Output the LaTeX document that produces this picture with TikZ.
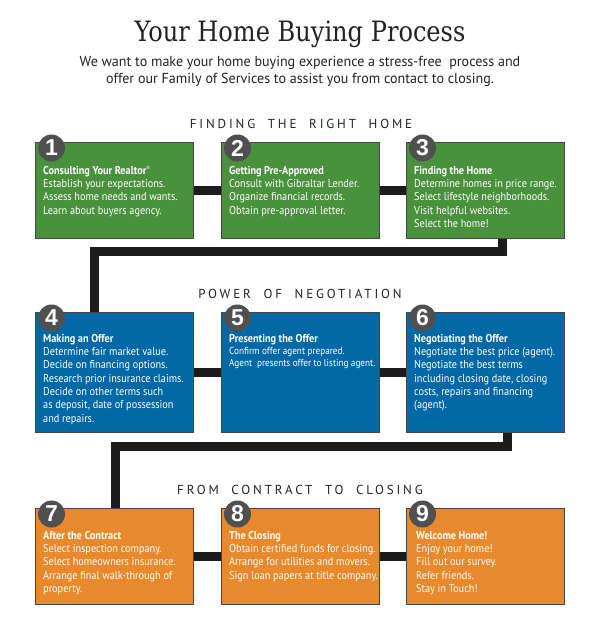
\documentclass[tikz,border=0pt]{standalone}
\usepackage{fontspec}
\setmainfont{PT Sans}[FakeStretch=0.9]
\newfontfamily\titlefont{DejaVu Serif}[FakeStretch=0.86]
\newfontfamily\subfont{PT Sans}[FakeStretch=0.97]
\newfontfamily\numfont{Liberation Sans}
\newfontfamily\headfont{PT Sans}[LetterSpace=22]
\usetikzlibrary{backgrounds,calc}
\definecolor{grn}{RGB}{73,145,60}
\definecolor{blu}{RGB}{2,104,166}
\definecolor{org}{RGB}{232,137,46}
\definecolor{circ}{RGB}{80,80,80}
\definecolor{conn}{RGB}{28,28,28}
\definecolor{ink}{RGB}{35,35,35}
\definecolor{edge}{RGB}{70,70,70}
\tikzset{
  stepbox/.style={draw=edge, line width=0.8pt, minimum width=158pt, anchor=north west, inner sep=0pt},
  boxtext/.style={anchor=north west, inner sep=0pt, align=left, text=white,
    font=\fontsize{11.4}{13.3}\selectfont},
  smalltext/.style={boxtext, font=\fontsize{10.2}{12.3}\selectfont},
  numc/.style={circle, fill=circ, minimum size=27pt, inner sep=0pt, text=white,
    font=\numfont\bfseries\fontsize{23}{23}\selectfont},
  link/.style={draw=conn, line width=9pt, line join=miter},
  head/.style={text=ink, font=\headfont\fontsize{13}{13}\selectfont, anchor=base}
}
\begin{document}
\begin{tikzpicture}[x=1pt,y=-1pt]
\path[use as bounding box] (0,0) rectangle (600,621);

% title
\node[anchor=base, text=ink, font=\titlefont\fontsize{28}{28}\selectfont] (title) at (300,41) {Your Home Buying Process};
\node[anchor=base, text=ink, align=center, font=\subfont\fontsize{14.5}{17}\selectfont] (sub) at (300,83)
  {We want to make your home buying experience a stress-free\ \ process and\\offer our Family of Services to assist you from contact to closing.};

% section headings
\node[head] (h1) at (301,128) {FINDING\ \ THE\ \ RIGHT\ \ HOME};
\node[head] (h2) at (300,298) {POWER\ \ OF\ \ NEGOTIATION};
\node[head] (h3) at (300,494) {FROM\ \ CONTRACT\ \ TO\ \ CLOSING};

% row 1
\node[stepbox, fill=grn, minimum height=96pt] (b1) at (35,142) {};
\node[stepbox, fill=grn, minimum height=96pt] (b2) at (221,142) {};
\node[stepbox, fill=grn, minimum height=96pt] (b3) at (406,142) {};
% row 2
\node[stepbox, fill=blu, minimum height=120pt] (b4) at (35,312) {};
\node[stepbox, fill=blu, minimum height=120pt] (b5) at (221,312) {};
\node[stepbox, fill=blu, minimum height=120pt] (b6) at (406,312) {};
% row 3
\node[stepbox, fill=org, minimum height=96pt] (b7) at (35,508) {};
\node[stepbox, fill=org, minimum height=96pt] (b8) at (221,508) {};
\node[stepbox, fill=org, minimum height=96pt] (b9) at (406,508) {};

% connectors
\coordinate (s1) at (502.5,251.5);
\coordinate (s2) at (94.5,251.5);
\coordinate (s3) at (507.5,446.5);
\coordinate (s4) at (115.5,446.5);
\begin{scope}[on background layer]
\fill[white] (0,0) rectangle (600,621);
\draw[link] (b1) -- (b2);
\draw[link] (b2) -- (b3);
\draw[link] (b4) -- (b5);
\draw[link] (b5) -- (b6);
\draw[link] (b7) -- (b8);
\draw[link] (b8) -- (b9);
\draw[link] (b3.south -| s1) -- (s1) -- (s2) -- (b4.north -| s2);
\draw[link] (b6.south -| s3) -- (s3) -- (s4) -- (b7.north -| s4);
\end{scope}

% texts
\node[boxtext] (t1) at ($(b1.north west)+(8,24)$) {\textbf{Consulting Your Realtor}\raisebox{3.5pt}{\fontsize{6}{6}\selectfont ®}\\Establish your expectations.\\Assess home needs and wants.\\Learn about buyers agency.};
\node[boxtext] (t2) at ($(b2.north west)+(8,24)$) {\textbf{Getting Pre-Approved}\\Consult with Gibraltar Lender.\\Organize financial records.\\Obtain pre-approval letter.};
\node[boxtext] (t3) at ($(b3.north west)+(8,24)$) {\textbf{Finding the Home}\\Determine homes in price range.\\Select lifestyle neighborhoods.\\Visit helpful websites.\\Select the home!};
\node[boxtext] (t4) at ($(b4.north west)+(8,22)$) {\textbf{Making an Offer}\\Determine fair market value.\\Decide on financing options.\\Research prior insurance claims.\\Decide on other terms such\\as deposit, date of possession\\and repairs.};
\node[smalltext] (t5) at ($(b5.north west)+(8,22)$) {{\fontsize{11.4}{13.3}\selectfont\textbf{Presenting the Offer}}\\Confirm offer agent prepared.\\Agent\ \ presents offer to listing agent.};
\node[boxtext] (t6) at ($(b6.north west)+(8,22)$) {\textbf{Negotiating the Offer}\\Negotiate the best price (agent).\\Negotiate the best terms\\including closing date, closing\\costs, repairs and financing\\(agent).};
\node[boxtext] (t7) at ($(b7.north west)+(8,23)$) {\textbf{After the Contract}\\Select inspection company.\\Select homeowners insurance.\\Arrange final walk-through of\\property.};
\node[boxtext] (t8) at ($(b8.north west)+(8,23)$) {\textbf{The Closing}\\Obtain certified funds for closing.\\Arrange for utilities and movers.\\Sign loan papers at title company.};
\node[boxtext] (t9) at ($(b9.north west)+(10,23)$) {\textbf{Welcome Home!}\\Enjoy your home!\\Fill out our survey.\\Refer friends.\\Stay in Touch!};

% number circles
\node[numc] (n1) at ($(b1.north west)+(16.5,6)$) {1};
\node[numc] (n2) at ($(b2.north west)+(16.5,6)$) {2};
\node[numc] (n3) at ($(b3.north west)+(16.5,6)$) {3};
\node[numc] (n4) at ($(b4.north west)+(16.5,6)$) {4};
\node[numc] (n5) at ($(b5.north west)+(16.5,6)$) {5};
\node[numc] (n6) at ($(b6.north west)+(16.5,6)$) {6};
\node[numc] (n7) at ($(b7.north west)+(16.5,6)$) {7};
\node[numc] (n8) at ($(b8.north west)+(16.5,6)$) {8};
\node[numc] (n9) at ($(b9.north west)+(16.5,6)$) {9};
\end{tikzpicture}
\end{document}
